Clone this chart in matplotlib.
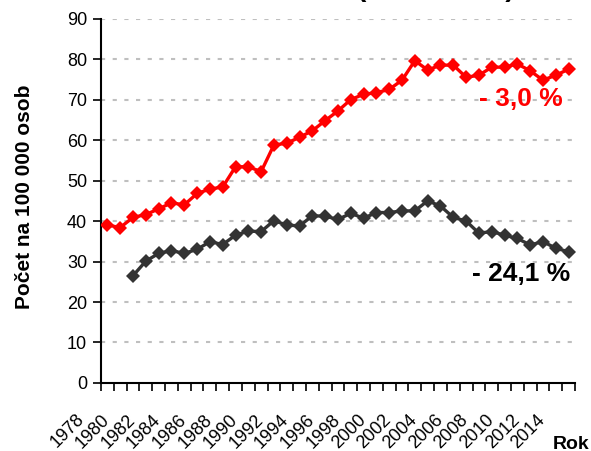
import matplotlib.pyplot as plt
import numpy as np

years = list(range(1978, 2015))
red_values = [39.0, 38.4, 40.9, 41.6, 43.0, 44.5, 44.0, 46.8, 47.9, 48.4,
              53.4, 53.4, 52.2, 58.8, 59.2, 60.7, 62.3, 64.8, 67.2, 70.0,
              71.3, 71.7, 72.5, 74.8, 79.6, 77.3, 78.5, 78.5, 75.5, 76.0,
              78.0, 78.0, 78.8, 77.1, 74.8, 76.0, 77.5]
gray_years = list(range(1980, 2015))
gray_values = [26.5, 30.1, 32.0, 32.7, 32.0, 33.0, 34.9, 34.2, 36.5, 37.5,
               37.4, 40.1, 39.0, 38.8, 41.3, 41.2, 40.4, 41.9, 40.7, 42.1,
               42.1, 42.5, 42.5, 45.0, 43.7, 40.9, 40.0, 37.0, 37.4, 36.5,
               35.7, 34.1, 34.9, 33.3, 32.4]
label_years = years[::2]
yticks = list(range(0, 100, 10))

plt.rcParams['font.family'] = ['Liberation Sans', 'DejaVu Sans']

fig = plt.figure(figsize=(5.91, 4.51), dpi=100)
ax = fig.add_axes([0.1709, 0.1508, 0.802, 0.808])

x_red = [years.index(y) for y in years]
x_gray = [years.index(y) for y in gray_years]

ax.plot(x_red, red_values, color='#FF0000', lw=2.4, marker='D', ms=7.5,
        markeredgewidth=0, zorder=3)
ax.plot(x_gray, gray_values, color='#333333', lw=2.4, marker='D', ms=7.5,
        markeredgewidth=0, zorder=3)

ax.set_xlim(-0.5, len(years) - 0.5)
ax.set_ylim(0, 90)
ax.set_yticks(yticks)
ax.set_yticklabels([str(v) for v in yticks], fontsize=13)
for v in yticks[1:]:
    ax.axhline(v, color='#BFBFBF', lw=1.5, ls=(0, (2, 3.6)), zorder=1)

# category boundaries get the tick marks, year labels drawn by hand
ax.set_xticks(np.arange(-0.5, len(years), 1.0))
ax.set_xticklabels([])
ax.tick_params(axis='x', length=6, width=1.2, direction='out')
ax.tick_params(axis='y', length=6, width=1.2, direction='out', pad=4)
for y in label_years:
    ax.annotate(str(y), xy=(years.index(y), 0), xycoords=('data', 'axes fraction'),
                xytext=(-32, -28), textcoords='offset pixels', rotation=45,
                ha='right', va='top', rotation_mode='anchor', fontsize=13,
                annotation_clip=False)

for s in ['top', 'right']:
    ax.spines[s].set_visible(False)
for s in ['left', 'bottom']:
    ax.spines[s].set_linewidth(1.5)

fig.text(0.042, 0.563, 'Počet na 100 000 osob', fontsize=15, fontweight='bold',
         rotation=90, ha='center', va='center')
fig.text(0.998, 0.0044, 'Rok', fontsize=14, fontweight='bold', ha='right', va='baseline')

fig.text(0.9526, 0.780, '- 3,0 %', color='#FF0000', fontsize=19, fontweight='bold',
         ha='right', va='center')
fig.text(0.9645, 0.392, '- 24,1 %', color='black', fontsize=19, fontweight='bold',
         ha='right', va='center')

fig.text(0.623, 1.008, 'Incidence (1978–2014)', fontsize=20, fontweight='bold',
         ha='center', va='baseline')

fig.savefig('out.png', dpi=100)
